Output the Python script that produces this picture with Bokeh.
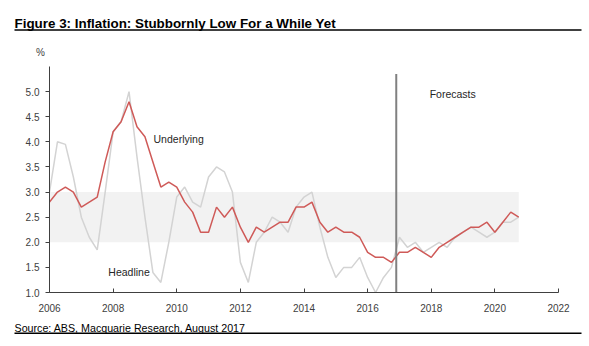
from bokeh.plotting import figure
from bokeh.layouts import column
from bokeh.models import Range1d, FixedTicker, Label, NumeralTickFormatter
from bokeh.core.properties import value
from bokeh.embed import file_html
from bokeh.resources import INLINE

# ---- data (quarterly, annual % change) ----
quarters = [2006 + i * 0.25 for i in range(60)]
underlying = [2.8, 3.0, 3.1, 3.0,
              2.7, 2.8, 2.9, 3.6,
              4.2, 4.4, 4.8, 4.3,
              4.1, 3.6, 3.1, 3.2,
              3.1, 2.8, 2.6, 2.2,
              2.2, 2.7, 2.5, 2.7,
              2.3, 2.0, 2.3, 2.2,
              2.3, 2.4, 2.4, 2.7,
              2.7, 2.8, 2.4, 2.2,
              2.3, 2.2, 2.2, 2.1,
              1.8, 1.7, 1.7, 1.6,
              1.8, 1.8, 1.9, 1.8,
              1.7, 1.9, 2.0, 2.1,
              2.2, 2.3, 2.3, 2.4,
              2.2, 2.4, 2.6, 2.5]
headline = [3.0, 4.0, 3.95, 3.3,
            2.5, 2.1, 1.85, 3.0,
            4.2, 4.4, 5.0, 3.7,
            2.5, 1.4, 1.2, 2.0,
            2.9, 3.1, 2.8, 2.7,
            3.3, 3.5, 3.4, 3.0,
            1.6, 1.2, 2.0, 2.2,
            2.5, 2.4, 2.2, 2.7,
            2.9, 3.0, 2.3, 1.7,
            1.3, 1.5, 1.5, 1.7,
            1.3, 1.0, 1.3, 1.5,
            2.1, 1.9, 2.0, 1.8,
            1.9, 2.0, 1.9, 2.1,
            2.2, 2.3, 2.2, 2.1,
            2.2, 2.4, 2.4, 2.5]
x_ticks = [2006, 2008, 2010, 2012, 2014, 2016, 2018, 2020, 2022]
y_ticks = [1.0, 1.5, 2.0, 2.5, 3.0, 3.5, 4.0, 4.5, 5.0]
band_start, band_end = 2006, 2020.75
band_low, band_high = 2.0, 3.0
forecast_x = 2016.9
forecast_top = 5.35

title_text = "Figure 3: Inflation: Stubbornly Low For a While Yet"
source_text = "Source: ABS, Macquarie Research, August 2017"
unit_text = "%"

FONT = "Liberation Sans"
W = 589


def strip(height):
    f = figure(width=W, height=height, output_backend="svg", toolbar_location=None,
               x_range=Range1d(0, W), y_range=Range1d(height, 0),
               x_axis_location=None, y_axis_location=None,
               min_border=0, min_border_left=0, min_border_right=0,
               min_border_top=0, min_border_bottom=0)
    f.frame_align = False
    f.outline_line_color = None
    f.xgrid.visible = False
    f.ygrid.visible = False
    f.background_fill_color = "white"
    f.border_fill_color = "white"
    return f


# ---- top strip: title, rule, unit ----
top = strip(58)
top.text(x=[14], y=[23], text=[title_text], text_font=value(FONT), text_font_size="13.4px",
         text_font_style="bold", text_color="#000000", text_baseline="alphabetic")
top.segment(x0=[14], y0=[29.5], x1=[581], y1=[29.5], line_color="#000000", line_width=1.5)
top.text(x=[40], y=[52], text=[unit_text], text_font=value(FONT), text_font_size="10px",
         text_color="#404040", text_baseline="middle", text_align="center")

# ---- main chart ----
p = figure(width=W, height=260, output_backend="svg", toolbar_location=None,
           x_range=Range1d(2006, 2022), y_range=Range1d(1.0, 5.5),
           min_border_left=49, min_border_right=31, min_border_top=8, min_border_bottom=26)
p.frame_align = False
p.outline_line_color = None
p.xgrid.visible = False
p.ygrid.visible = False
p.background_fill_color = "white"
p.border_fill_color = "white"

p.quad(left=[band_start], right=[band_end], bottom=[band_low], top=[band_high],
       fill_color="#f2f2f2", line_color=None)
p.line(quarters, headline, line_color="#d3d3d3", line_width=1.5)
p.line(quarters, underlying, line_color="#cf5a58", line_width=1.5)
p.segment(x0=[forecast_x], y0=[1.0], x1=[forecast_x], y1=[forecast_top],
          line_color="#808080", line_width=2)

for ax in (p.xaxis[0], p.yaxis[0]):
    ax.axis_line_color = "#404040"
    ax.major_tick_line_color = "#404040"
    ax.minor_tick_line_color = None
    ax.major_label_text_font = FONT
    ax.major_label_text_font_size = "10px"
    ax.major_label_text_color = "#404040"
p.xaxis.ticker = FixedTicker(ticks=x_ticks)
p.yaxis.ticker = FixedTicker(ticks=y_ticks)
p.yaxis.formatter = NumeralTickFormatter(format="0.0")
p.xaxis.major_tick_in = 4
p.xaxis.major_tick_out = 0
p.xaxis.major_label_standoff = 11
p.yaxis.major_tick_in = 0
p.yaxis.major_tick_out = 4
p.yaxis.major_label_standoff = 6

for txt, x, y in [("Underlying", 2009.27, 4.05), ("Headline", 2007.85, 1.40),
                  ("Forecasts", 2017.95, 4.96)]:
    p.add_layout(Label(x=x, y=y, text=txt, text_font=FONT, text_font_size="10.5px",
                       text_color="#262626", text_baseline="middle", text_align="left"))

# ---- bottom strip: source, rule ----
bot = strip(28)
bot.text(x=[14], y=[9], text=[source_text], text_font=value(FONT), text_font_size="10.7px",
         text_color="#000000", text_baseline="alphabetic")
bot.segment(x0=[14], y0=[14.7], x1=[581], y1=[14.7], line_color="#000000", line_width=1.5)

layout = column(top, p, bot, spacing=0)
open("out.html", "w").write(file_html(layout, INLINE))
